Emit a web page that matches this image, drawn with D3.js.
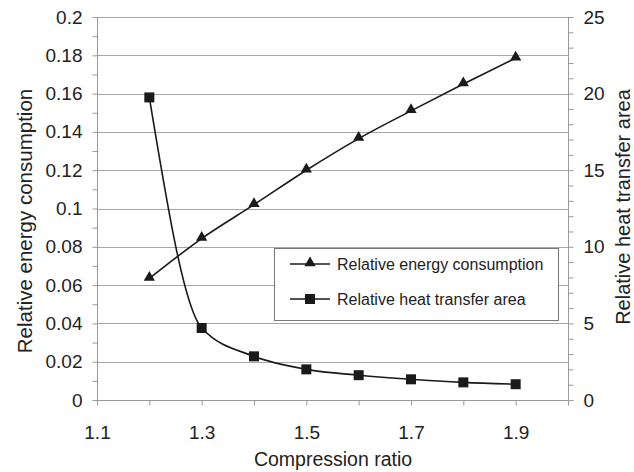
<!DOCTYPE html>
<html><head><meta charset="utf-8">
<script src="https://cdn.jsdelivr.net/npm/d3@7"></script>
<style>body{margin:0;background:#fff;} text{font-family:"Liberation Sans",Arial,sans-serif;}</style>
</head><body>
<svg id="c" width="634" height="472"></svg>
<script>
const ratios = [1.2, 1.3, 1.4, 1.5, 1.6, 1.7, 1.8, 1.9];
const energy = [0.0635, 0.0843, 0.102, 0.120, 0.1365, 0.151, 0.165, 0.1785];
const area = [19.75, 4.7, 2.85, 2.0, 1.62, 1.35, 1.15, 1.03];
const xTicks = [1.1, 1.3, 1.5, 1.7, 1.9];
const yLeftTicks = [0, 0.02, 0.04, 0.06, 0.08, 0.1, 0.12, 0.14, 0.16, 0.18, 0.2];
const yRightTicks = [0, 5, 10, 15, 20, 25];
const seriesNames = ["Relative energy consumption", "Relative heat transfer area"];

const svg = d3.select("#c");
const L = 97, R = 568, T = 17, B = 400;
const x = d3.scaleLinear().domain([1.1, 2.0]).range([L, R]);
const yL = d3.scaleLinear().domain([0, 0.2]).range([B, T]);
const yR = d3.scaleLinear().domain([0, 25]).range([B, T]);
const grid = "#a6a6a6";

// gridlines
svg.append("g").selectAll("line").data(yLeftTicks.slice(1)).join("line")
  .attr("x1", L).attr("x2", R).attr("y1", d => Math.round(yL(d)) + 0.5).attr("y2", d => Math.round(yL(d)) + 0.5)
  .attr("stroke", grid).attr("stroke-width", 1);

// axes
const leftAxis = svg.append("g").attr("transform", `translate(${L + 0.5},0)`)
  .call(d3.axisLeft(yL).tickValues(d3.range(0, 0.2001, 0.01)).tickSize(5)
    .tickFormat(d => { const r = Math.round(d * 100); return r % 2 === 0 ? d3.format("~g")(+(r / 100).toFixed(2)) : ""; }));
const rightAxis = svg.append("g").attr("transform", `translate(${R + 0.5},0)`)
  .call(d3.axisRight(yR).tickValues(d3.range(0, 26, 1)).tickSize(5)
    .tickFormat(d => yRightTicks.includes(d) ? d : ""));
const bottomAxis = svg.append("g").attr("transform", `translate(0,${B + 0.5})`)
  .call(d3.axisBottom(x).tickValues(d3.range(1.1, 2.001, 0.1)).tickSize(5)
    .tickFormat(d => { const v = +d.toFixed(1); return xTicks.some(t => Math.abs(t - v) < 1e-6) ? v.toFixed(1) : ""; }));
[leftAxis, rightAxis, bottomAxis].forEach(a => {
  a.select(".domain").attr("stroke", "#999");
  a.selectAll(".tick line").attr("stroke", "#999");
  a.selectAll("text").attr("font-size", 19).attr("fill", "#222").attr("font-family", "Liberation Sans, Arial, sans-serif");
});
leftAxis.selectAll("text").attr("x", -15);
rightAxis.selectAll("text").attr("x", 15);
bottomAxis.selectAll("text").attr("y", 38.5).attr("dy", 0);
leftAxis.select(".domain").attr("d", `M0,${T}V${B}`);
rightAxis.select(".domain").attr("d", `M0,${T}V${B}`);
bottomAxis.select(".domain").attr("d", `M${L},0H${R}`);

// titles
svg.append("text").attr("transform", `translate(32,221) rotate(-90)`)
  .attr("text-anchor", "middle").attr("font-size", 20.5).attr("fill", "#222").text("Relative energy consumption");
svg.append("text").attr("transform", `translate(630,207) rotate(-90)`)
  .attr("text-anchor", "middle").attr("font-size", 20).attr("fill", "#222").text("Relative heat transfer area");
svg.append("text").attr("x", 333).attr("y", 466).attr("text-anchor", "middle")
  .attr("font-size", 19.5).attr("fill", "#222").text("Compression ratio");

// lines
const e = ratios.map((r, i) => [x(r), yL(energy[i])]);
const a = ratios.map((r, i) => [x(r), yR(area[i])]);
svg.append("path").attr("d", d3.line().curve(d3.curveCatmullRom.alpha(0))(e)).attr("fill", "none").attr("stroke", "#1a1a1a").attr("stroke-width", 1.6);
svg.append("path").attr("d", d3.line().curve(d3.curveMonotoneX)(a)).attr("fill", "none").attr("stroke", "#1a1a1a").attr("stroke-width", 1.6);

const tri = d3.symbol().type(d3.symbolTriangle).size(55);
svg.append("g").selectAll("path").data(e).join("path")
  .attr("transform", d => `translate(${d[0]},${d[1] - 1})`).attr("d", tri()).attr("fill", "#1a1a1a");
svg.append("g").selectAll("rect").data(a).join("rect")
  .attr("x", d => d[0] - 5).attr("y", d => d[1] - 5).attr("width", 10).attr("height", 10).attr("fill", "#1a1a1a");

// legend
const lg = svg.append("g");
lg.append("rect").attr("x", 274.5).attr("y", 248.5).attr("width", 284).attr("height", 72)
  .attr("fill", "#fff").attr("stroke", "#777").attr("stroke-width", 1);
const ly = [264, 299];
seriesNames.forEach((n, i) => {
  lg.append("line").attr("x1", 290).attr("x2", 330).attr("y1", ly[i]).attr("y2", ly[i]).attr("stroke", "#1a1a1a").attr("stroke-width", 1.6);
  if (i === 0) lg.append("path").attr("transform", `translate(310,${ly[i] - 1})`).attr("d", tri()).attr("fill", "#1a1a1a");
  else lg.append("rect").attr("x", 305).attr("y", ly[i] - 5).attr("width", 10).attr("height", 10).attr("fill", "#1a1a1a");
  lg.append("text").attr("x", 337).attr("y", ly[i] + 6).attr("font-size", 16).attr("fill", "#222").text(n);
});
</script>
</body></html>
